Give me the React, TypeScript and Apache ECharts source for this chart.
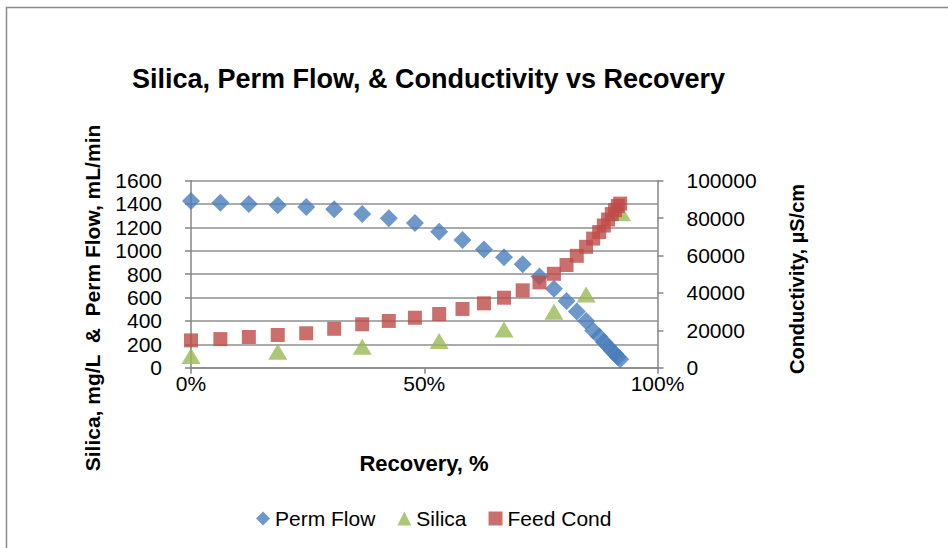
import React, { useEffect, useRef } from "react";
import * as echarts from "echarts";

const FONT = "'Liberation Sans', Arial, sans-serif";

// Recovery (%) for Perm Flow and Feed Cond points
const recovery = [0, 6.3, 12.4, 18.6, 24.7, 30.7, 36.7, 42.4, 48.0, 53.2, 58.2, 62.8, 67.1, 71.1, 74.7, 77.8, 80.5, 82.7, 84.7, 86.2, 87.5, 88.5, 89.4, 90.2, 90.9, 91.5, 92.0];
// Perm Flow, mL/min (left axis)
const permFlow = [1425, 1410, 1400, 1390, 1375, 1355, 1315, 1277, 1237, 1162, 1092, 1010, 944, 884, 780, 675, 570, 480, 400, 318, 267, 220, 183, 146, 119, 91, 72];
// Feed conductivity, µS/cm (right axis)
const feedCond = [14600, 15300, 16400, 17500, 18400, 20800, 23200, 25000, 26700, 28700, 31400, 34400, 37400, 41350, 45600, 50200, 54900, 59800, 64600, 69000, 72500, 76000, 79200, 82100, 84200, 86400, 87700];
// Silica, mg/L (left axis)
const silicaRecovery = [0, 18.6, 36.7, 53.2, 67.1, 77.8, 84.7, 92.3];
const silica = [100, 137, 180, 228, 326, 479, 627, 1320];

const seriesNames = ["Perm Flow", "Silica", "Feed Cond"];
const chartTitle = "Silica, Perm Flow, & Conductivity vs Recovery";
const xTitle = "Recovery, %";
const yLeftTitle = "Silica, mg/L  &  Perm Flow, mL/min";
const yRightTitle = "Conductivity, µS/cm";

export default function App() {
  const ref = useRef<HTMLDivElement>(null);
  useEffect(() => {
    if (!ref.current) return;
    const chart = echarts.init(ref.current, null, { renderer: "svg" });
    const axisColor = "#868686";
    const labelStyle = { fontSize: 21, color: "#000", fontFamily: FONT };
    const plain = (v: number) => String(v);
    chart.setOption({
      animation: false,
      backgroundColor: "#ffffff",
      grid: { left: 191, right: 290.5, top: 180.6, bottom: 180.3, containLabel: false },
      xAxis: {
        type: "value",
        min: 0,
        max: 100,
        interval: 50,
        axisLine: { show: true, lineStyle: { color: axisColor, width: 1.5 } },
        axisTick: { show: true, length: 6, lineStyle: { color: axisColor, width: 1.5 } },
        axisLabel: { ...labelStyle, margin: 5, formatter: "{value}%" },
        splitLine: { show: false },
      },
      yAxis: [
        {
          type: "value",
          min: 0,
          max: 1600,
          interval: 200,
          position: "left",
          axisLine: { show: true, lineStyle: { color: axisColor, width: 1.5 } },
          axisTick: { show: true, length: 6, lineStyle: { color: axisColor, width: 1.5 } },
          axisLabel: { ...labelStyle, margin: 29, formatter: plain },
          splitLine: { show: true, lineStyle: { color: "#8f8f8f", width: 1.5 } },
        },
        {
          type: "value",
          min: 0,
          max: 100000,
          interval: 20000,
          position: "right",
          axisLine: { show: true, lineStyle: { color: axisColor, width: 1.5 } },
          axisTick: { show: true, length: 6, lineStyle: { color: axisColor, width: 1.5 } },
          axisLabel: { ...labelStyle, margin: 29, formatter: plain },
          splitLine: { show: false },
        },
      ],
      legend: {
        left: 251,
        top: 503,
        itemWidth: 14,
        itemHeight: 14,
        itemGap: 22,
        textStyle: { fontSize: 21, color: "#000", fontFamily: FONT },
        data: [
          { name: seriesNames[0], icon: "diamond" },
          { name: seriesNames[1], icon: "triangle" },
          { name: seriesNames[2], icon: "rect" },
        ],
      },
      graphic: [
        {
          type: "rect",
          shape: { x: 6.5, y: 7.5, width: 1000, height: 600 },
          style: { fill: "none", stroke: "#8a8a8a", lineWidth: 1.5 },
          silent: true,
        },
        {
          type: "text",
          x: 428.5,
          y: 79,
          style: { text: chartTitle, fontSize: 27, fontWeight: "bold", fontFamily: FONT, fill: "#000", align: "center", verticalAlign: "middle" },
        },
        {
          type: "text",
          x: 424,
          y: 463,
          style: { text: xTitle, fontSize: 22, fontWeight: "bold", fontFamily: FONT, fill: "#000", align: "center", verticalAlign: "middle" },
        },
        {
          type: "text",
          x: 92,
          y: 298,
          rotation: Math.PI / 2,
          style: { text: yLeftTitle, fontSize: 21, fontWeight: "bold", fontFamily: FONT, fill: "#000", align: "center", verticalAlign: "middle" },
        },
        {
          type: "text",
          x: 797,
          y: 279,
          rotation: Math.PI / 2,
          style: { text: yRightTitle, fontSize: 20, fontWeight: "bold", fontFamily: FONT, fill: "#000", align: "center", verticalAlign: "middle" },
        },
      ],
      series: [
        {
          name: seriesNames[0],
          type: "scatter",
          yAxisIndex: 0,
          symbol: "diamond",
          symbolSize: 18,
          itemStyle: { color: "#4A7EBB" },
          data: recovery.map((r, i) => [r, permFlow[i]]),
        },
        {
          name: seriesNames[1],
          type: "scatter",
          yAxisIndex: 0,
          symbol: "triangle",
          symbolSize: [19, 16],
          itemStyle: { color: "#98B954" },
          data: silicaRecovery.map((r, i) => [r, silica[i]]),
        },
        {
          name: seriesNames[2],
          type: "scatter",
          yAxisIndex: 1,
          symbol: "rect",
          symbolSize: 14,
          itemStyle: { color: "#BE4B48" },
          data: recovery.map((r, i) => [r, feedCond[i]]),
        },
      ],
    });
    return () => chart.dispose();
  }, []);
  return <div ref={ref} style={{ position: "absolute", left: 0, top: 0, width: 948, height: 548 }} />;
}
